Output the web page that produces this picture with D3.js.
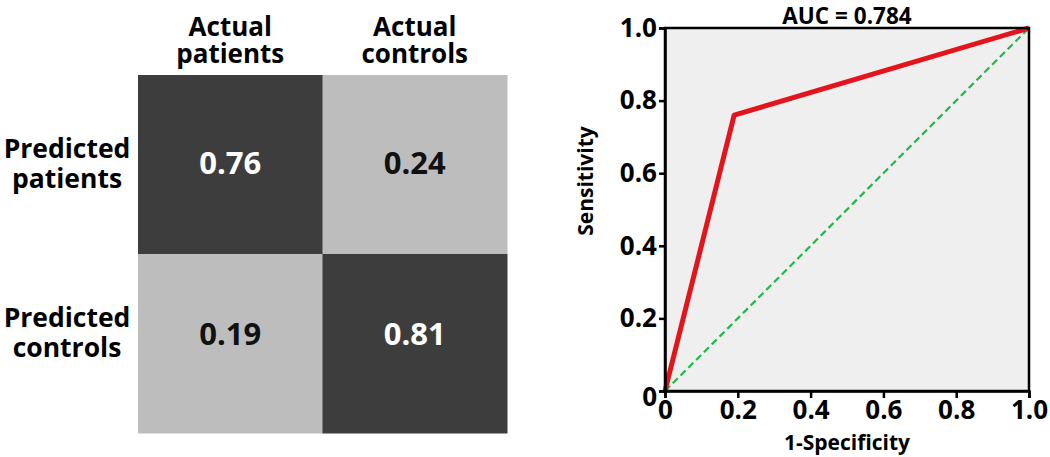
<!DOCTYPE html>
<html><head><meta charset="utf-8">
<script src="https://cdn.jsdelivr.net/npm/d3@7"></script>
<style>body{margin:0;background:#fff}svg{display:block}text{font-family:"Open Sans",sans-serif;font-weight:700}</style>
</head><body>
<svg id="c" width="1050" height="457"></svg>
<script>
const colLabels = [["Actual","patients"],["Actual","controls"]];
const rowLabels = [["Predicted","patients"],["Predicted","controls"]];
const matrix = [[0.76,0.24],[0.19,0.81]];
const rocX = [0,0.19,1];
const rocY = [0,0.76,1];
const ticks = [0,0.2,0.4,0.6,0.8,1.0];
const tickLabels = ["0","0.2","0.4","0.6","0.8","1.0"];
const aucLabel = "AUC = 0.784";

const svg = d3.select("#c");
// confusion matrix
const cx = d3.scaleBand().domain([0,1]).range([138,507]);
const cy = d3.scaleBand().domain([0,1]).range([75,433]);
const nudge = [4,-4];
const cells = [];
matrix.forEach((r,i)=>r.forEach((v,j)=>cells.push({i,j,v})));
const g = svg.append("g");
g.selectAll("rect").data(cells).join("rect")
 .attr("x",d=>cx(d.j)).attr("y",d=>cy(d.i))
 .attr("width",cx.bandwidth()+0.5).attr("height",cy.bandwidth()+0.5)
 .attr("fill",d=>d.v>=0.5?"#3d3d3d":"#bdbdbd");
g.selectAll("text.v").data(cells).join("text").attr("class","v")
 .attr("x",d=>cx(d.j)+cx.bandwidth()/2).attr("y",d=>cy(d.i)+84+nudge[d.i]+11)
 .attr("text-anchor","middle")
 .attr("font-size",31).attr("fill",d=>d.v>=0.5?"#fff":"#111")
 .text(d=>d.v.toFixed(2));
colLabels.forEach((l,j)=>{
  l.forEach((s,k)=>g.append("text").attr("x",cx(j)+cx.bandwidth()/2).attr("y",36+k*27)
   .attr("text-anchor","middle").attr("font-size",26).attr("fill","#000").text(s));
});
rowLabels.forEach((l,i)=>{
  l.forEach((s,k)=>g.append("text").attr("x",67).attr("y",cy(i)+78+nudge[i]*1.2+k*30)
   .attr("text-anchor","middle").attr("font-size",26.5).attr("fill","#000").text(s));
});

// ROC
const x = d3.scaleLinear().domain([0,1]).range([665,1029]);
const y = d3.scaleLinear().domain([0,1]).range([391,28]);
const r = svg.append("g");
r.append("rect").attr("x",x(0)).attr("y",y(1)).attr("width",x(1)-x(0)).attr("height",y(0)-y(1)).attr("fill","#efefef");
r.append("line").attr("x1",x(0)).attr("y1",y(0)).attr("x2",x(1)).attr("y2",y(1))
 .attr("stroke","#22b845").attr("stroke-width",2.2).attr("stroke-dasharray","7,4");
const pts = rocX.map((v,i)=>[v,rocY[i]]);
r.append("path").attr("d",d3.line().x(d=>x(d[0])).y(d=>y(d[1]))(pts))
 .attr("fill","none").attr("stroke","#e3141b").attr("stroke-width",5).attr("stroke-linejoin","round");
// frame
r.append("rect").attr("x",x(0)).attr("y",y(1)).attr("width",x(1)-x(0)).attr("height",y(0)-y(1))
 .attr("fill","none").attr("stroke","#000").attr("stroke-width",2.5);
const fmt = d=>tickLabels[ticks.indexOf(d)];
const xa = r.append("g").attr("transform",`translate(0,${y(0)})`)
 .call(d3.axisBottom(x).tickValues(ticks).tickFormat(fmt).tickSize(7).tickPadding(3));
const ya = r.append("g").attr("transform",`translate(${x(0)},0)`)
 .call(d3.axisLeft(y).tickValues(ticks).tickFormat(fmt).tickSize(6).tickPadding(2));
[xa,ya].forEach(a=>{a.select(".domain").attr("stroke","#000").attr("stroke-width",2.5);
 a.selectAll(".tick line").attr("stroke","#000").attr("stroke-width",2.5);
 a.selectAll(".tick text").attr("font-size",26).attr("fill","#000").attr("font-family","Open Sans").attr("font-weight",700);});
ya.selectAll(".tick text").filter(d=>d===0).attr("dy","0.55em");
r.append("text").attr("x",(x(0)+x(1))/2).attr("y",450).attr("text-anchor","middle")
 .attr("font-size",21).text("1-Specificity");
r.append("text").attr("transform",`translate(593,181) rotate(-90)`).attr("text-anchor","middle")
 .attr("font-size",21).text("Sensitivity");
r.append("text").attr("x",(x(0)+x(1))/2).attr("y",24).attr("text-anchor","middle")
 .attr("font-size",22.5).text(aucLabel);
</script>
</body></html>
